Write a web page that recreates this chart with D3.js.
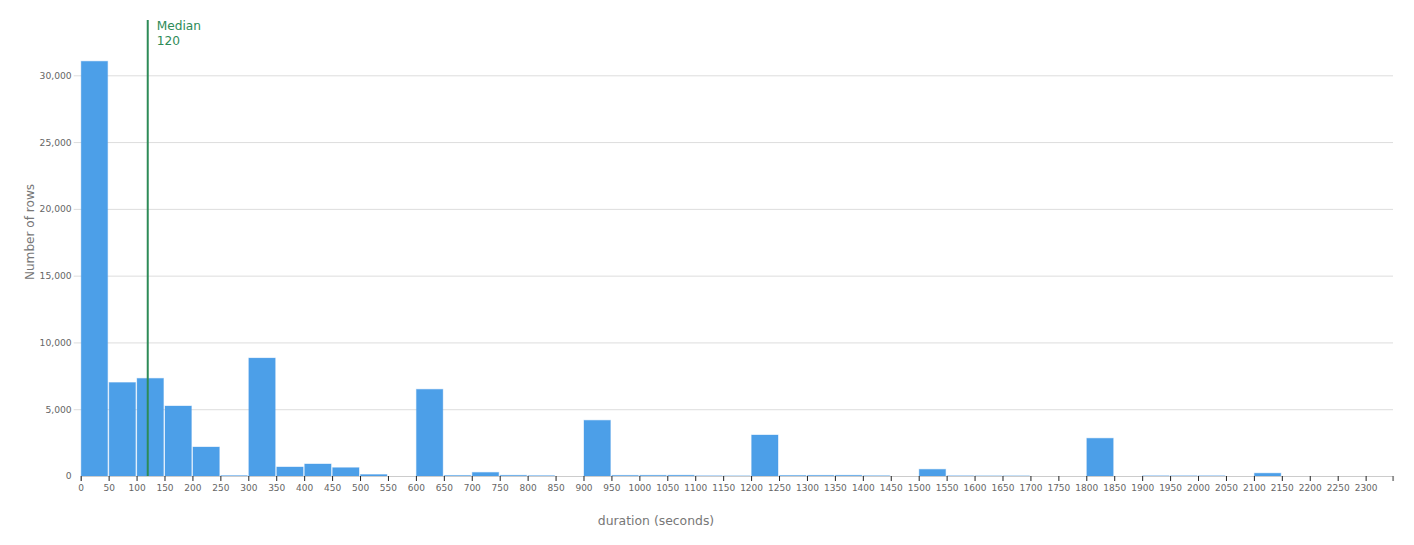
<!DOCTYPE html>
<html>
<head>
<meta charset="utf-8">
<script src="https://cdn.jsdelivr.net/npm/d3@7/dist/d3.min.js"></script>
<style>
  html, body { margin: 0; padding: 0; background: #fff; }
  svg { display: block; font-family: "DejaVu Sans", sans-serif; }
</style>
</head>
<body>
<svg id="chart" width="1414" height="545"></svg>
<script>
// ---- data ----
const binWidth = 50;
const binStarts = [0,50,100,150,200,250,300,350,400,450,500,550,600,650,700,750,800,850,900,950,
  1000,1050,1100,1150,1200,1250,1300,1350,1400,1450,1500,1550,1600,1650,1700,1750,1800,1850,1900,1950,
  2000,2050,2100,2150,2200,2250,2300];
const counts = [31050,7000,7310,5240,2170,30,8830,675,900,625,110,0,6490,40,270,50,25,0,4170,45,
  50,55,15,10,3070,40,45,50,20,0,500,15,10,10,0,0,2825,0,15,15,
  15,0,210,0,0,0,0];
const xTickValues = d3.range(0, 2301, 50);
const yTickValues = [0,5000,10000,15000,20000,25000,30000];
const medianValue = 120;
const xTitle = "duration (seconds)";
const yTitle = "Number of rows";

// ---- layout ----
const plotLeft = 80.7, plotRight = 1393, plotTop = 20, plotBottom = 476;
const svg = d3.select("#chart");

const x = d3.scaleLinear().domain([0, 2349]).range([plotLeft, plotRight]);
const y = d3.scaleLinear().domain([0, 34140]).range([plotBottom, plotTop]);

// gridlines + y labels
const yAxis = svg.append("g").attr("transform", `translate(${plotLeft},0)`)
  .call(d3.axisLeft(y).tickValues(yTickValues).tickFormat(d3.format(","))
        .tickSize(-(plotRight - plotLeft)).tickPadding(9).tickSizeOuter(0));
yAxis.select(".domain").remove();
yAxis.selectAll(".tick line").attr("stroke", "#dddddd").attr("x1", -7)
  .filter(d => d === 0).remove();
yAxis.selectAll(".tick text").attr("fill", "#666").attr("font-size", 9.2)
  .attr("font-family", "DejaVu Sans");

// bars
const bins = binStarts.map((s, i) => ({x0: s, x1: s + binWidth, n: counts[i]})).filter(d => d.n > 0);
svg.append("g").selectAll("rect").data(bins).join("rect")
  .attr("x", d => x(d.x0) + 0.5)
  .attr("width", d => x(d.x1) - x(d.x0) - 1.5)
  .attr("y", d => y(d.n))
  .attr("height", d => y(0) - y(d.n))
  .attr("fill", "#4c9fe8")
  .attr("stroke", "#4c9fe8")
  .attr("stroke-opacity", 0.35)
  .attr("stroke-width", 1);

// x axis
const xAxis = svg.append("g").attr("transform", `translate(0,${plotBottom})`)
  .call(d3.axisBottom(x).tickValues(xTickValues).tickFormat(d3.format("d"))
        .tickSize(5).tickSizeOuter(5).tickPadding(4));
xAxis.select(".domain").attr("stroke", "#cccccc").attr("stroke-width", 1.2);
xAxis.selectAll(".tick line").attr("stroke", "#222");
xAxis.selectAll(".tick text").attr("fill", "#666").attr("font-size", 9)
  .attr("font-family", "DejaVu Sans");
xAxis.append("line").attr("x1", x.range()[1]).attr("x2", x.range()[1])
  .attr("y1", 0).attr("y2", 5).attr("stroke", "#555");

// median line
const mx = x(medianValue);
svg.append("line").attr("x1", mx).attr("x2", mx).attr("y1", plotTop).attr("y2", plotBottom)
  .attr("stroke", "#2e8b57").attr("stroke-width", 2);
const mt = svg.append("text").attr("fill", "#2e8b57").attr("font-size", 12.2);
mt.append("tspan").attr("x", mx + 9).attr("y", 30).text("Median");
mt.append("tspan").attr("x", mx + 9).attr("y", 44.5).text(medianValue);

// axis titles
svg.append("text").attr("x", 656).attr("y", 525).attr("text-anchor", "middle")
  .attr("fill", "#777").attr("font-size", 12.4).text(xTitle);
svg.append("text").attr("transform", "translate(34,232) rotate(-90)")
  .attr("text-anchor", "middle").attr("fill", "#777").attr("font-size", 12.1).text(yTitle);
</script>
</body>
</html>
